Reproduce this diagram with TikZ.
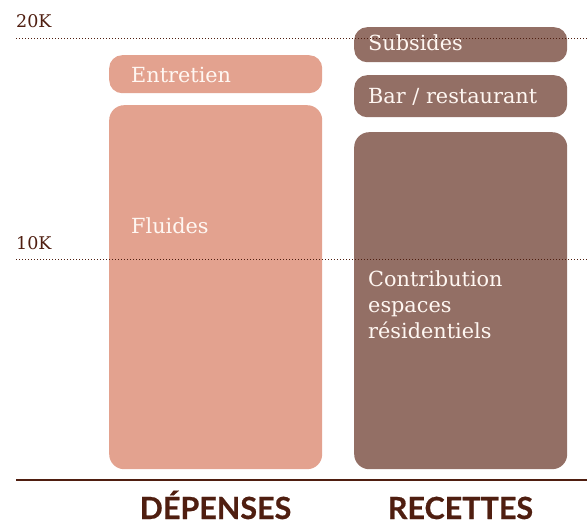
\documentclass[tikz,border=0pt]{standalone}
\usepackage{fontspec}
\setmainfont{DejaVu Serif}
\newfontfamily\headfont{Lato}[BoldFeatures={FakeBold=0.6}]
\definecolor{salmon}{HTML}{E3A28F}
\definecolor{mauve}{HTML}{936F65}
\definecolor{darkbrown}{HTML}{4F1E10}
\definecolor{boxwhite}{HTML}{FFF7F2}
\tikzset{
  barbox/.style={rectangle, rounded corners=13pt, anchor=north west, inner sep=0pt, draw=none},
  bigbox/.style={barbox, rounded corners=15pt},
  boxtext/.style={anchor=base west, inner sep=0pt, text=boxwhite, font=\fontsize{20.8}{26}\selectfont, align=left},
  axislabel/.style={anchor=base west, inner sep=0pt, text=darkbrown, font=\fontsize{17.5}{20}\selectfont},
  dotline/.style={draw=darkbrown, line width=1pt, dash pattern=on 1pt off 2pt},
  baseline/.style={draw=darkbrown, line width=1.4pt},
  catlabel/.style={anchor=base, inner sep=0pt, text=darkbrown, font=\headfont\bfseries\fontsize{30.5}{34}\selectfont}
}
\begin{document}
\begin{tikzpicture}[x=1pt,y=-1pt]
\useasboundingbox (0,0) rectangle (587,525);
% bars
\node[barbox, fill=salmon, minimum width=213pt, minimum height=38pt] (entretien) at (109,55) {};
\node[bigbox, fill=salmon, minimum width=213pt, minimum height=364pt] (fluides) at (109,105) {};
\node[barbox, fill=mauve, minimum width=213pt, minimum height=35pt] (subsides) at (354,27) {};
\node[barbox, fill=mauve, minimum width=213pt, minimum height=42pt] (bar) at (354,75) {};
\node[bigbox, fill=mauve, minimum width=213pt, minimum height=337pt] (contribution) at (354,132) {};
% texts
\node[boxtext] (tentretien) at (131,82) {Entretien};
\node[boxtext] (tfluides) at (131,233) {Fluides};
\node[boxtext] (tsubsides) at (368,50) {Subsides};
\node[boxtext] (tbar) at (368,103) {Bar / restaurant};
\node[boxtext] (tcontribution) at (368,338) {Contribution\\espaces\\résidentiels};
% grid lines
\coordinate (g20a) at (16,38);
\coordinate (g20b) at (587,38);
\coordinate (g10a) at (16,259);
\coordinate (g10b) at (587,259);
\draw[dotline] (g20a) -- (g20b);
\draw[dotline] (g10a) -- (g10b);
\node[axislabel] (l20) at (16,27) {20K};
\node[axislabel] (l10) at (16,249) {10K};
% axis
\coordinate (axa) at (16,480);
\coordinate (axb) at (587,480);
\draw[baseline] (axa) -- (axb);
\node[catlabel] (dep) at (215.5,519) {DÉPENSES};
\node[catlabel] (rec) at (460.5,519) {RECETTES};
\end{tikzpicture}
\end{document}
